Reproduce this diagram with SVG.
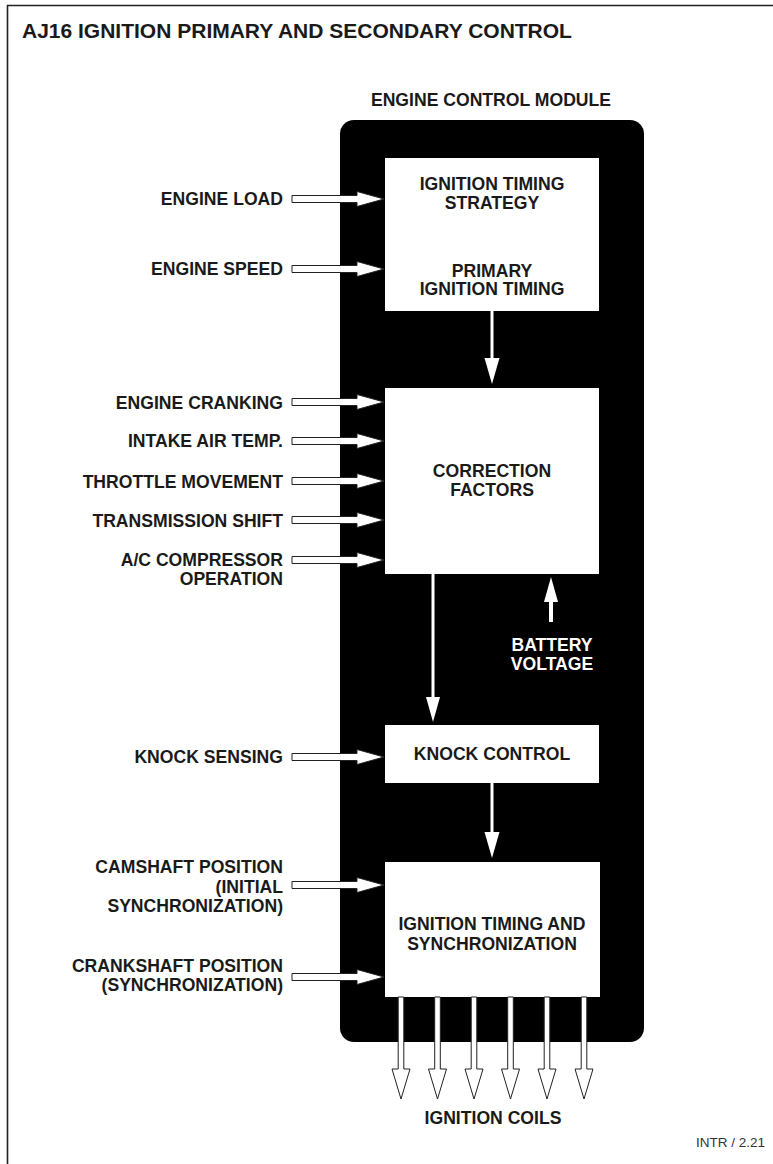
<svg xmlns="http://www.w3.org/2000/svg" xmlns:xlink="http://www.w3.org/1999/xlink" width="773" height="1164" viewBox="0 0 773 1164">
<style>
text{font-family:"Liberation Sans",Arial,sans-serif;font-weight:bold;font-size:17.6px;fill:#1a1a1a}
.r{text-anchor:end}
.m{text-anchor:middle}
.w{fill:#fff}
.box{fill:#fff}
.hollow{fill:#fff;stroke:#222;stroke-width:1;stroke-linejoin:miter}
.wl{stroke:#fff;stroke-width:3;fill:none}
.wh{fill:#fff}
</style>
<defs>
<path id="inArrow" class="hollow" d="M0,-3.5 L65,-3.5 L65,-7.5 L92,0 L65,7.5 L65,3.5 L0,3.5 Z"/>
<path id="coilArrow" class="hollow" d="M-2.8,0 L-2.8,72 L-9,72 L0,102 L9,72 L2.8,72 L2.8,0 Z"/>
</defs>
<rect width="773" height="1164" fill="#fff"/>
<path d="M7.5,1164 L7.5,5.5 L773,5.5" fill="none" stroke="#222" stroke-width="1.6"/>
<text x="22" y="38" style="font-size:21px">AJ16 IGNITION PRIMARY AND SECONDARY CONTROL</text>
<text x="491" y="106" class="m">ENGINE CONTROL MODULE</text>
<g id="ecm">
<rect x="340" y="120" width="304" height="922" rx="14" ry="14" fill="#000"/>
</g>
<g id="strategy">
<rect class="box" x="385" y="158" width="214" height="153"/>
<text x="492" y="190" class="m">IGNITION TIMING</text>
<text x="492" y="209" class="m">STRATEGY</text>
<text x="492" y="277" class="m">PRIMARY</text>
<text x="492" y="295" class="m">IGNITION TIMING</text>
</g>
<g id="correction">
<rect class="box" x="385" y="388" width="214" height="186"/>
<text x="492" y="477" class="m">CORRECTION</text>
<text x="492" y="496" class="m">FACTORS</text>
</g>
<g id="knock">
<rect class="box" x="385" y="725" width="214" height="58"/>
<text x="492" y="760" class="m">KNOCK CONTROL</text>
</g>
<g id="sync">
<rect class="box" x="385" y="862" width="215" height="135"/>
<text x="492" y="930" class="m">IGNITION TIMING AND</text>
<text x="492" y="950" class="m">SYNCHRONIZATION</text>
</g>
<g id="battery">
<text x="552" y="651" class="m w">BATTERY</text>
<text x="552" y="670" class="m w">VOLTAGE</text>
</g>
<g id="inputs">
<text x="283" y="205" class="r">ENGINE LOAD</text>
<text x="283" y="275" class="r">ENGINE SPEED</text>
<text x="283" y="409" class="r">ENGINE CRANKING</text>
<text x="283" y="447" class="r">INTAKE AIR TEMP.</text>
<text x="283" y="488" class="r">THROTTLE MOVEMENT</text>
<text x="283" y="527" class="r">TRANSMISSION SHIFT</text>
<text x="283" y="566" class="r">A/C COMPRESSOR</text>
<text x="283" y="585" class="r">OPERATION</text>
<text x="283" y="763" class="r">KNOCK SENSING</text>
<text x="283" y="873" class="r">CAMSHAFT POSITION</text>
<text x="283" y="893" class="r">(INITIAL</text>
<text x="283" y="912" class="r">SYNCHRONIZATION)</text>
<text x="283" y="972" class="r">CRANKSHAFT POSITION</text>
<text x="283" y="991" class="r">(SYNCHRONIZATION)</text>
</g>
<g id="connectors">
<use xlink:href="#inArrow" x="292" y="199"/>
<use xlink:href="#inArrow" x="292" y="269"/>
<use xlink:href="#inArrow" x="292" y="402"/>
<use xlink:href="#inArrow" x="292" y="441"/>
<use xlink:href="#inArrow" x="292" y="481"/>
<use xlink:href="#inArrow" x="292" y="520"/>
<use xlink:href="#inArrow" x="292" y="560"/>
<use xlink:href="#inArrow" x="292" y="757"/>
<use xlink:href="#inArrow" x="292" y="885"/>
<use xlink:href="#inArrow" x="292" y="977"/>
<line class="wl" x1="492" y1="311" x2="492" y2="360"/>
<polygon class="wh" points="484.5,358 499.5,358 492,384"/>
<line class="wl" x1="433" y1="574" x2="433" y2="699"/>
<polygon class="wh" points="426,697 440,697 433,722"/>
<line class="wl" x1="492" y1="783" x2="492" y2="834"/>
<polygon class="wh" points="484.5,832 499.5,832 492,858"/>
<line stroke="#fff" stroke-width="4" x1="551" y1="622" x2="551" y2="600"/>
<polygon class="wh" points="544,602 558,602 551,577"/>
<use xlink:href="#coilArrow" x="401" y="997"/>
<use xlink:href="#coilArrow" x="437.5" y="997"/>
<use xlink:href="#coilArrow" x="474" y="997"/>
<use xlink:href="#coilArrow" x="510.5" y="997"/>
<use xlink:href="#coilArrow" x="547" y="997"/>
<use xlink:href="#coilArrow" x="584" y="997"/>
</g>
<text x="493" y="1124" class="m">IGNITION COILS</text>
<text x="765" y="1147" style="font-weight:normal;font-size:13.5px;fill:#333;text-anchor:end">INTR / 2.21</text>
</svg>
